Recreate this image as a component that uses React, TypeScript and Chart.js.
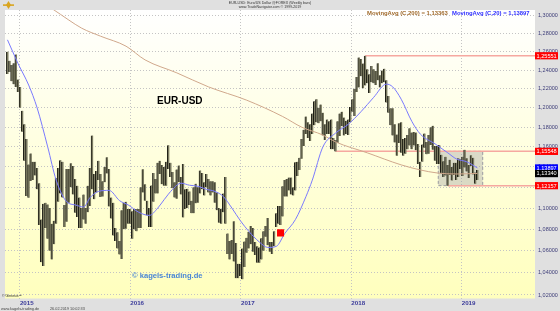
import React, { useEffect, useRef } from 'react';
import { Chart, registerables } from 'chart.js';

Chart.register(...registerables);

// Weekly bars (EUR/USD), first bar = week ending Friday 21.11.2014
const firstWeekEnd = [2014, 10, 21];

const weeklyHigh = [
  1.2600, 1.2500, 1.2456, 1.2475, 1.2570, 1.2300, 1.2220,
  1.1970, 1.1830, 1.1680, 1.1423, 1.1534, 1.1450, 1.1450, 1.1390, 1.1240, 1.0890, 1.1040, 1.1050, 1.1035,
  1.1000, 1.0850, 1.0880, 1.1290, 1.1390, 1.1467, 1.1450, 1.1030, 1.1380, 1.1380, 1.1436, 1.1410, 1.1280,
  1.1215, 1.1100, 1.1000, 1.1130, 1.1000, 1.1215, 1.1390, 1.1714, 1.1330, 1.1360, 1.1460, 1.1330, 1.1260,
  1.1400, 1.1495, 1.1380, 1.1100, 1.1050, 1.0810, 1.0770, 1.0690, 1.0980, 1.1050, 1.1060, 1.0990, 1.0990,
  1.0970, 1.0990, 1.0990, 1.0990, 1.1200, 1.1376, 1.1230, 1.1070, 1.1000, 1.1218, 1.1340, 1.1280, 1.1440,
  1.1460, 1.1420, 1.1400, 1.1450, 1.1616, 1.1440, 1.1350, 1.1250, 1.1375, 1.1415, 1.1300, 1.1430, 1.1180,
  1.1185, 1.1160, 1.1070, 1.1200, 1.1235, 1.1200, 1.1365, 1.1340, 1.1250, 1.1330, 1.1280, 1.1260, 1.1260,
  1.1250, 1.1150, 1.1000, 1.0990, 1.1140, 1.1300, 1.0760, 1.0690, 1.0700, 1.0874, 1.0670, 1.0480, 1.0480,
  1.0620, 1.0685, 1.0720, 1.0775, 1.0830, 1.0810, 1.0680, 1.0640, 1.0630, 1.0715, 1.0780, 1.0830, 1.0905,
  1.0680, 1.0680, 1.0780, 1.0950, 1.1020, 1.1020, 1.1210, 1.1270, 1.1280, 1.1295, 1.1295, 1.1200, 1.1445,
  1.1450, 1.1490, 1.1680, 1.1775, 1.1910, 1.1850, 1.1830, 1.1940, 1.2070, 1.2090, 1.2000, 1.2035, 1.1950,
  1.1830, 1.1880, 1.1860, 1.1880, 1.1690, 1.1670, 1.1860, 1.1940, 1.1960, 1.1900, 1.1865, 1.1880, 1.2010,
  1.2090, 1.2200, 1.2325, 1.2537, 1.2520, 1.2470, 1.2555, 1.2410, 1.2355, 1.2445, 1.2410, 1.2390, 1.2475,
  1.2345, 1.2395, 1.2415, 1.2290, 1.2125, 1.1995, 1.1995, 1.1830, 1.1725, 1.1840, 1.1850, 1.1680, 1.1690,
  1.1720, 1.1790, 1.1745, 1.1750, 1.1745, 1.1630, 1.1450, 1.1625, 1.1735, 1.1650, 1.1720, 1.1800, 1.1815,
  1.1610, 1.1610, 1.1620, 1.1520, 1.1455, 1.1500, 1.1420, 1.1470, 1.1400, 1.1440, 1.1440, 1.1485, 1.1475,
  1.1500, 1.1570, 1.1485, 1.1420, 1.1515, 1.1490, 1.1345, 1.1370,
];

const weeklyLow = [
  1.2358, 1.2380, 1.2280, 1.2247, 1.2220, 1.2165, 1.2000,
  1.1754, 1.1460, 1.1115, 1.1098, 1.1262, 1.1270, 1.1315, 1.1180, 1.0840, 1.0495, 1.0460, 1.0810, 1.0710,
  1.0600, 1.0520, 1.0660, 1.0850, 1.1060, 1.1140, 1.1100, 1.0820, 1.0870, 1.1050, 1.1200, 1.1130, 1.0955,
  1.0915, 1.0810, 1.0810, 1.0890, 1.0850, 1.0960, 1.1020, 1.1180, 1.1085, 1.1150, 1.1270, 1.1105, 1.1110,
  1.1250, 1.1335, 1.1015, 1.0900, 1.0740, 1.0690, 1.0620, 1.0565, 1.0524, 1.0800, 1.0805, 1.0850, 1.0850,
  1.0710, 1.0800, 1.0780, 1.0810, 1.0810, 1.1150, 1.1070, 1.0930, 1.0820, 1.0820, 1.1060, 1.1140, 1.1140,
  1.1330, 1.1230, 1.1215, 1.1215, 1.1380, 1.1300, 1.1190, 1.1100, 1.1090, 1.1250, 1.1130, 1.0910, 1.0990,
  1.1000, 1.1030, 1.0950, 1.0950, 1.1045, 1.1050, 1.1140, 1.1180, 1.1120, 1.1200, 1.1150, 1.1120, 1.1150,
  1.1050, 1.0980, 1.0860, 1.0850, 1.0960, 1.0850, 1.0570, 1.0520, 1.0570, 1.0500, 1.0350, 1.0350, 1.0370,
  1.0340, 1.0450, 1.0580, 1.0620, 1.0660, 1.0590, 1.0560, 1.0490, 1.0490, 1.0520, 1.0600, 1.0730, 1.0650,
  1.0590, 1.0570, 1.0640, 1.0820, 1.0850, 1.0840, 1.0920, 1.1110, 1.1110, 1.1170, 1.1130, 1.1120, 1.1170,
  1.1310, 1.1370, 1.1480, 1.1610, 1.1730, 1.1690, 1.1660, 1.1730, 1.1820, 1.1850, 1.1840, 1.1860, 1.1715,
  1.1670, 1.1730, 1.1730, 1.1575, 1.1575, 1.1554, 1.1640, 1.1710, 1.1810, 1.1715, 1.1730, 1.1720, 1.1850,
  1.1960, 1.1915, 1.2165, 1.2215, 1.2335, 1.2205, 1.2235, 1.2260, 1.2155, 1.2270, 1.2260, 1.2240, 1.2290,
  1.2215, 1.2260, 1.2270, 1.2055, 1.1950, 1.1820, 1.1715, 1.1645, 1.1510, 1.1640, 1.1540, 1.1510, 1.1530,
  1.1575, 1.1615, 1.1575, 1.1615, 1.1565, 1.1430, 1.1300, 1.1450, 1.1590, 1.1525, 1.1530, 1.1620, 1.1570,
  1.1460, 1.1430, 1.1430, 1.1335, 1.1300, 1.1315, 1.1216, 1.1320, 1.1265, 1.1320, 1.1270, 1.1300, 1.1380,
  1.1310, 1.1395, 1.1355, 1.1290, 1.1410, 1.1325, 1.1235, 1.1270,
];

// Moving averages (week index, value)
const ma20Weeks = [0, 5, 10, 14, 19, 23, 28, 32, 36, 39, 43, 48, 53, 57, 62, 67, 71, 74, 78, 82, 86, 90, 94, 98, 102, 106, 110, 114, 119, 123, 127, 131, 136, 141, 144, 149, 155, 161, 167, 173, 179, 182, 186, 191, 195, 202, 208, 212, 217, 222];
const ma20Values = [1.273, 1.247, 1.224, 1.200, 1.160, 1.127, 1.106, 1.103, 1.101, 1.110, 1.116, 1.117, 1.107, 1.103, 1.096, 1.093, 1.100, 1.108, 1.118, 1.124, 1.122, 1.121, 1.118, 1.116, 1.111, 1.100, 1.088, 1.078, 1.068, 1.063, 1.064, 1.076, 1.089, 1.111, 1.127, 1.160, 1.174, 1.183, 1.196, 1.211, 1.225, 1.222, 1.209, 1.186, 1.173, 1.163, 1.154, 1.148, 1.145, 1.139];

const ma200Weeks = [14, 21, 29, 35, 44, 56, 65, 80, 95, 113, 130, 139, 149, 155, 170, 186, 195, 203, 212, 222];
const ma200Values = [1.318, 1.308, 1.295, 1.286, 1.277, 1.266, 1.251, 1.237, 1.222, 1.208, 1.191, 1.180, 1.172, 1.165, 1.154, 1.142, 1.137, 1.134, 1.133, 1.1336];

const yearLabels = [2015, 2016, 2017, 2018, 2019];
const priceTicks = [1.02, 1.04, 1.06, 1.08, 1.10, 1.12, 1.14, 1.16, 1.18, 1.20, 1.22, 1.24, 1.26, 1.28, 1.30];

const levelValues = [1.25551, 1.15548, 1.12157];
const levelStartWeeks = [169, 155, 208];

const tagValues = [1.25551, 1.15548, 1.13897, 1.1334, 1.12157];
const tagColors = ['#ff0000', '#ff0000', '#0000ff', '#000000', '#ff0000'];

const boxWeeks = [203.5, 224.5];
const boxValues = [1.15548, 1.12157];

const signalWeeks = [129];
const signalValues = [1.0765];

const titleLines = ['EUR-USD: Euro/US Dollar @FOREX (Weekly bars)', 'www.TradeNavigator.com \u00a9 1999-2019'];
const legendTexts = ['MovingAvg (C,200) = 1,13363', 'MovingAvg (C,20) = 1,13897'];

const FONT = '"Liberation Sans", Arial, sans-serif';
const DAY = 86400000;
const base = Date.UTC(firstWeekEnd[0], firstWeekEnd[1], firstWeekEnd[2]);
const yearPos = (y: number) => (Date.UTC(y, 0, 1) - base) / (7 * DAY);
const fmt = (v: number) => v.toFixed(5).replace('.', ',');

const decor = {
  id: 'decor',
  beforeDraw(chart: any) {
    const { ctx, chartArea: a, width, height } = chart;
    ctx.save();
    ctx.fillStyle = '#e0e0e0';
    ctx.fillRect(0, 0, width, height);
    const g = ctx.createLinearGradient(0, a.top, 0, a.bottom);
    g.addColorStop(0, '#ffffff');
    g.addColorStop(1, '#ffffbd');
    ctx.fillStyle = g;
    ctx.fillRect(a.left, a.top, a.right - a.left, a.bottom - a.top);
    ctx.restore();
  },
  beforeDatasetsDraw(chart: any) {
    const { ctx, chartArea: a, scales } = chart;
    const x = scales.x, y = scales.y;
    ctx.save();
    ctx.beginPath();
    ctx.rect(a.left, a.top, a.right - a.left, a.bottom - a.top);
    ctx.clip();
    const bx0 = x.getPixelForValue(boxWeeks[0]);
    const bx1 = x.getPixelForValue(boxWeeks[1]);
    const by0 = y.getPixelForValue(boxValues[0]);
    const by1 = y.getPixelForValue(boxValues[1]);
    ctx.fillStyle = 'rgba(150,150,160,0.35)';
    ctx.fillRect(bx0, by0, bx1 - bx0, by1 - by0);
    ctx.setLineDash([3, 2]);
    ctx.strokeStyle = '#9a9aa0';
    ctx.lineWidth = 1;
    ctx.strokeRect(bx0, by0, bx1 - bx0, by1 - by0);
    ctx.setLineDash([]);
    ctx.strokeStyle = '#f6a8a0';
    ctx.lineWidth = 1.5;
    levelValues.forEach((v, i) => {
      const py = y.getPixelForValue(v);
      ctx.beginPath();
      ctx.moveTo(x.getPixelForValue(levelStartWeeks[i]), py);
      ctx.lineTo(a.right, py);
      ctx.stroke();
    });
    ctx.restore();
  },
  afterDraw(chart: any) {
    const { ctx, chartArea: a, scales } = chart;
    const y = scales.y;
    ctx.save();
    ctx.fillStyle = '#333';
    ctx.font = `3.6px ${FONT}`;
    ctx.textAlign = 'center';
    ctx.textBaseline = 'middle';
    ctx.fillText(titleLines[0], 270, 2.6);
    ctx.fillText(titleLines[1], 270, 6.6);
    ctx.fillStyle = '#d9a520';
    ctx.beginPath();
    ctx.moveTo(8.5, 1); ctx.lineTo(11, 5); ctx.lineTo(8.5, 9); ctx.lineTo(6, 5); ctx.closePath();
    ctx.fill();
    ctx.fillRect(3, 4.3, 11, 1.6);
    ctx.font = `bold 5.9px ${FONT}`;
    ctx.textAlign = 'left';
    ctx.fillStyle = '#a06a2c';
    ctx.fillText(legendTexts[0], 367, 13);
    ctx.fillStyle = '#2f2fff';
    ctx.fillText(legendTexts[1], 452, 13);
    ctx.fillStyle = '#000';
    ctx.font = `bold 10px ${FONT}`;
    ctx.fillText('EUR-USD', 157, 101);
    ctx.fillStyle = '#4a86d6';
    ctx.font = `bold 7.6px ${FONT}`;
    ctx.fillText('\u00a9 kagels-trading.de', 132, 276);
    ctx.fillStyle = '#222';
    ctx.font = `3.5px ${FONT}`;
    ctx.fillText('\u00a9 Genesis\u2122', 2, 296.3);
    ctx.fillStyle = '#444';
    ctx.font = `3.8px ${FONT}`;
    ctx.fillText('www.kagels-trading.de', 1, 308.5);
    ctx.fillText('26.02.2019 10:02:33', 50, 308.5);
    ctx.font = `5.6px ${FONT}`;
    tagValues.forEach((v, i) => {
      const py = y.getPixelForValue(v);
      ctx.fillStyle = tagColors[i];
      ctx.fillRect(a.right, py - 3.6, 23, 7.2);
      ctx.fillStyle = '#ffffff';
      ctx.fillText(fmt(v), a.right + 1.5, py + 0.3);
    });
    ctx.restore();
  },
};

export default function App() {
  const ref = useRef<HTMLCanvasElement | null>(null);
  useEffect(() => {
    document.body.style.margin = '0';
    const canvas = ref.current;
    if (!canvas) return;
    const bars = weeklyHigh.map((h, i) => ({ x: i, y: [weeklyLow[i], h] }));
    const ma20 = ma20Weeks.map((w, i) => ({ x: w, y: ma20Values[i] }));
    const ma200 = ma200Weeks.map((w, i) => ({ x: w, y: ma200Values[i] }));
    const signal = signalWeeks.map((w, i) => ({ x: w, y: signalValues[i] }));
    const chart = new Chart(canvas, {
      type: 'bar',
      data: {
        datasets: [
          {
            type: 'line',
            data: signal as any,
            showLine: false,
            pointStyle: 'rect',
            pointRadius: 5,
            backgroundColor: '#ff0000',
            borderColor: '#ff0000',
            borderWidth: 0,
            order: 0,
          } as any,
          {
            type: 'line',
            data: ma20 as any,
            borderColor: '#7a7aff',
            borderWidth: 1,
            pointRadius: 0,
            cubicInterpolationMode: 'monotone',
            order: 1,
          } as any,
          {
            type: 'line',
            data: ma200 as any,
            borderColor: '#d0a88c',
            borderWidth: 1,
            pointRadius: 0,
            cubicInterpolationMode: 'monotone',
            order: 2,
          } as any,
          {
            type: 'bar',
            data: bars as any,
            backgroundColor: '#7c7c62',
            borderColor: '#1c1c14',
            borderWidth: { left: 1, right: 0, top: 0, bottom: 0 },
            borderSkipped: false,
            barThickness: 2.2,
            order: 3,
          } as any,
        ],
      },
      options: {
        responsive: false,
        devicePixelRatio: 1,
        animation: false,
        layout: { padding: { top: 10, left: 0, right: 0, bottom: 0 } },
        plugins: { legend: { display: false }, tooltip: { enabled: false }, title: { display: false } },
        scales: {
          x: {
            type: 'linear',
            offset: false,
            bounds: 'data',
            min: -1.17,
            max: 249.2,
            afterBuildTicks: (s: any) => {
              s.ticks = yearLabels.map((yr) => ({ value: yearPos(yr) }));
            },
            afterFit: (s: any) => {
              s.height = 12.5;
            },
            ticks: {
              autoSkip: false,
              maxRotation: 0,
              align: 'start',
              padding: 1,
              color: '#3b3b9a',
              font: { family: FONT, size: 6.2, weight: 'bold' },
              callback: (v: any) => {
                const yr = yearLabels.find((yy) => Math.abs(yearPos(yy) - v) < 0.01);
                return yr ? String(yr) : '';
              },
            },
            grid: { color: '#c4c4c4', lineWidth: 1, drawTicks: false, offset: false },
            border: { display: false, dash: [1, 2] },
          },
          y: {
            type: 'logarithmic',
            position: 'right',
            min: 1.0169,
            max: 1.3064,
            afterBuildTicks: (s: any) => {
              s.ticks = priceTicks.map((v) => ({ value: v }));
            },
            afterFit: (s: any) => {
              s.width = 25;
            },
            ticks: {
              autoSkip: false,
              padding: 3,
              color: '#3c3c78',
              font: { family: FONT, size: 5.5 },
              callback: (v: any) => fmt(Number(v)),
            },
            grid: { color: '#c4c4c4', lineWidth: 1, drawTicks: false },
            border: { display: false, dash: [1, 2] },
          },
        },
      } as any,
      plugins: [decor],
    });
    return () => chart.destroy();
  }, []);
  return (
    <div style={{ width: 560, height: 311 }}>
      <canvas ref={ref} width={560} height={311} style={{ display: 'block' }} />
    </div>
  );
}
